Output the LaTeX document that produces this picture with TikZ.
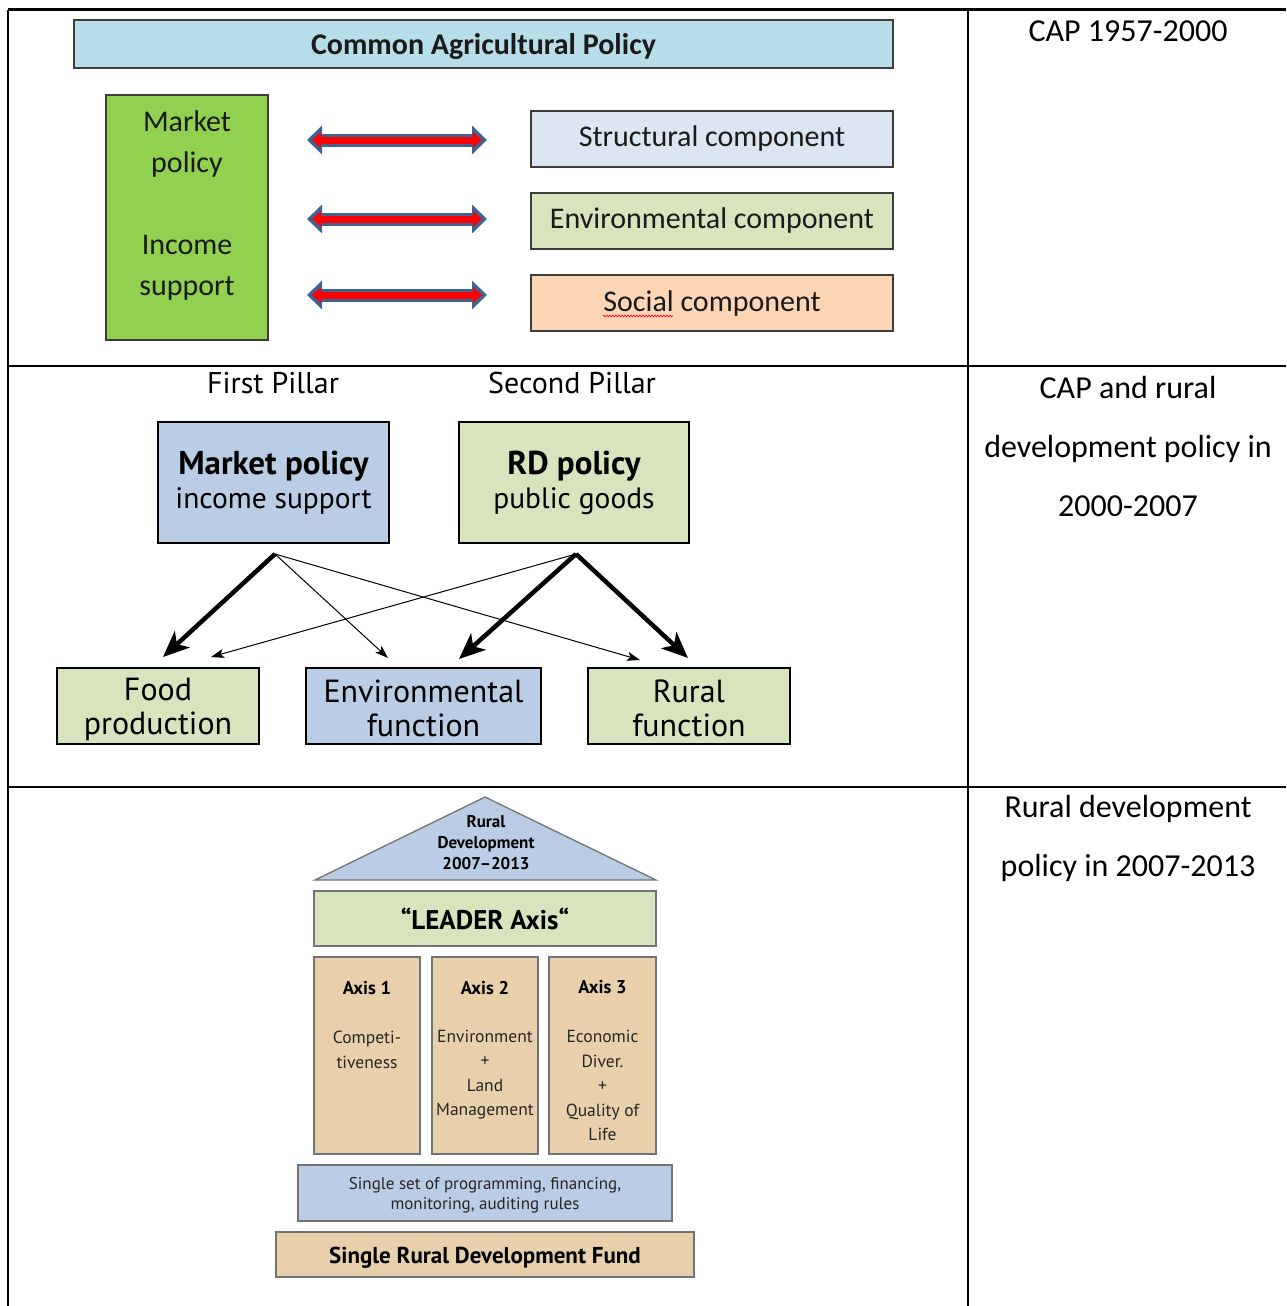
\documentclass[tikz,border=0pt]{standalone}
\usepackage{fontspec}
\setmainfont{Carlito}
\newfontfamily\myr{PT Sans}
\usetikzlibrary{arrows.meta,decorations.pathmorphing}
\definecolor{capblue}{HTML}{B7DEE8}
\definecolor{mgreen}{HTML}{92D050}
\definecolor{structblue}{HTML}{DCE6F2}
\definecolor{envgreen}{HTML}{D7E4BD}
\definecolor{socorange}{HTML}{FCD5B5}
\definecolor{boxblue}{HTML}{B9CDE5}
\definecolor{tan}{HTML}{E8D0AC}
\definecolor{arrowblue}{HTML}{41638F}
\definecolor{ink}{HTML}{1A1A1A}
\tikzset{
  tline/.style={line width=2pt, black},
  topbox/.style={draw=ink!85, line width=1.2pt, inner sep=0pt, text=ink},
  midbox/.style={draw=black, line width=2pt, inner sep=0pt, align=center},
  lowbox/.style={draw=black!55, line width=1.3pt, inner sep=0pt, align=center},
  coltext/.style={align=center, text=black, font=\fontsize{32}{59}\selectfont},
  cfont/.style={font=\fontsize{30}{41}\selectfont},
  dblout/.style={line width=13pt, draw=arrowblue, {Triangle[width=28pt,length=15pt]}-{Triangle[width=28pt,length=15pt]}},
  dblin/.style={line width=7pt, draw=red, {Triangle[width=15pt,length=9pt]}-{Triangle[width=15pt,length=9pt]}},
  thickarr/.style={line width=4.5pt, -{Stealth[length=26pt,width=22pt,inset=7pt]}},
  thinarr/.style={line width=1pt, -{Stealth[length=13pt,width=9pt,inset=3pt]}},
  midtxt/.style={align=center, font=\myr\fontsize{32}{34}\selectfont},
  axtitle/.style={font=\myr\fontsize{18.5}{20}\selectfont\bfseries},
  axbody/.style={align=center, font=\myr\fontsize{17.5}{24.5}\selectfont, text=black!85},
}
\begin{document}
\begin{tikzpicture}[x=1pt,y=-1pt]
\useasboundingbox[fill=white] (0,0) rectangle (1286,1306);

% table lines
\draw[tline, line width=3pt] (8,10) -- (1286,10);
\draw[tline] (8,10) -- (8,1306);
\draw[tline] (968,10) -- (968,1306);
\draw[tline] (8,366) -- (1286,366);
\draw[tline] (8,787) -- (1286,787);

% right column
\node[coltext] (c1) at (1128,31) {CAP 1957-2000};
\node[coltext] (c2) at (1128,446) {CAP and rural\\development policy in\\2000-2007};
\node[coltext] (c3) at (1128,838) {Rural development\\policy in 2007-2013};

% ---- section 1
\node[topbox, fill=capblue, minimum width=819pt, minimum height=48pt] (cap) at (483.5,44) {};
\node[font=\fontsize{30}{30}\selectfont\bfseries, text=ink] (captxt) at ([yshift=-3pt]cap.center) {Common Agricultural Policy};
\node[topbox, fill=mgreen, minimum width=162pt, minimum height=245pt] (mkt) at (187,217.5) {};
\node[cfont, align=center, text=ink] (mkttxt) at (187,205) {Market\\policy\\[41pt]Income\\support};
\node[topbox, cfont, fill=structblue, minimum width=362pt, minimum height=56pt] (struct) at (712,139) {Structural component};
\node[topbox, cfont, fill=envgreen, minimum width=362pt, minimum height=56pt] (envc) at (712,221) {Environmental component};
\node[topbox, cfont, fill=socorange, minimum width=362pt, minimum height=56pt] (soc) at (712,303) {Social component};
\draw[red, line width=0.7pt, decorate, decoration={snake, amplitude=0.8pt, segment length=3pt}] (603,316) -- (673,316);

\foreach \yy/\nm in {140/a, 219/b, 295/c}{
  \coordinate (l\nm) at (307,\yy);
  \coordinate (r\nm) at (487,\yy);
  \draw[dblout] (l\nm) -- (r\nm);
  \draw[dblin] ([xshift=5pt]l\nm) -- ([xshift=-5pt]r\nm);
}

% ---- section 2
\node[font=\myr\fontsize{30}{32}\selectfont] (p1) at (273,383) {First Pillar};
\node[font=\myr\fontsize{30}{32}\selectfont] (p2) at (572,383) {Second Pillar};
\node[midbox, fill=boxblue, minimum width=231pt, minimum height=121pt, font=\myr\fontsize{29.5}{34}\selectfont] (mp) at (273.5,482.5) {{\fontsize{33}{34}\selectfont\bfseries Market policy}\\income support};
\node[midbox, fill=envgreen, minimum width=230pt, minimum height=121pt, font=\myr\fontsize{29.5}{34}\selectfont] (rd) at (574,482.5) {{\fontsize{33}{34}\selectfont\bfseries RD policy}\\public goods};
\node[midbox, fill=envgreen, minimum width=202pt, minimum height=76pt] (food) at (158,706) {};
\node[midbox, fill=boxblue, minimum width=235pt, minimum height=76pt] (envf) at (423.5,706) {};
\node[midbox, fill=envgreen, minimum width=202pt, minimum height=76pt] (rural) at (689,706) {};
\node[midtxt] (foodt) at ([yshift=-3pt]food.center) {Food\\production};
\node[midtxt] (envft) at ([yshift=-2pt]envf.center) {Environmental\\function};
\node[midtxt] (ruralt) at ([yshift=-2pt]rural.center) {Rural\\function};
\coordinate (mpo) at (275,554);
\coordinate (rdo) at (576,554);
\coordinate (foodA) at (163,657);
\coordinate (foodB) at (211,657);
\coordinate (envA) at (388,658);
\coordinate (envB) at (459,659);
\coordinate (ruralA) at (640,660);
\coordinate (ruralB) at (688,658);
\draw[thickarr] (mpo) -- (foodA);
\draw[thinarr] (mpo) -- (envA);
\draw[thinarr] (mpo) -- (ruralA);
\draw[thinarr] (rdo) -- (foodB);
\draw[thickarr] (rdo) -- (envB);
\draw[thickarr] (rdo) -- (ruralB);

% ---- section 3
\draw[draw=black!55, line width=1.3pt, fill=boxblue] (485,797) -- (656,880) -- (315,880) -- cycle;
\node[align=center, font=\myr\fontsize{17}{21}\selectfont\bfseries] (tri) at (486,843) {Rural\\Development\\2007–2013};
\node[lowbox, fill=envgreen, minimum width=342pt, minimum height=55pt, font=\myr\fontsize{27}{28}\selectfont\bfseries] (leader) at (485,918.5) {“LEADER Axis“};
\node[lowbox, fill=tan, minimum width=106pt, minimum height=197pt] (ax1) at (367,1055.5) {};
\node[lowbox, fill=tan, minimum width=106pt, minimum height=197pt] (ax2) at (485,1055.5) {};
\node[lowbox, fill=tan, minimum width=107pt, minimum height=197pt] (ax3) at (602.5,1055.5) {};
\node[axtitle] (ax1t) at (367,988) {Axis 1};
\node[axtitle] (ax2t) at (485,988) {Axis 2};
\node[axtitle] (ax3t) at (602.5,987) {Axis 3};
\node[axbody] (ax1b) at (367,1050) {Competi-\\tiveness};
\node[axbody] (ax2b) at (485,1074.5) {Environment\\+\\Land\\Management};
\node[axbody] (ax3b) at (602.5,1085.5) {Economic\\Diver.\\+\\Quality of\\Life};
\node[lowbox, fill=boxblue, minimum width=374pt, minimum height=56pt] (rules) at (485,1193) {};
\node[align=center, font=\myr\fontsize{17}{20}\selectfont, text=black!85] (rulest) at ([yshift=-2pt]rules.center) {Single set of programming, financing,\\monitoring, auditing rules};
\node[lowbox, fill=tan, minimum width=418pt, minimum height=45pt] (fund) at (485,1254.5) {};
\node[font=\myr\fontsize{23}{24}\selectfont\bfseries] (fundt) at ([yshift=-3pt]fund.center) {Single Rural Development Fund};
\end{tikzpicture}
\end{document}
